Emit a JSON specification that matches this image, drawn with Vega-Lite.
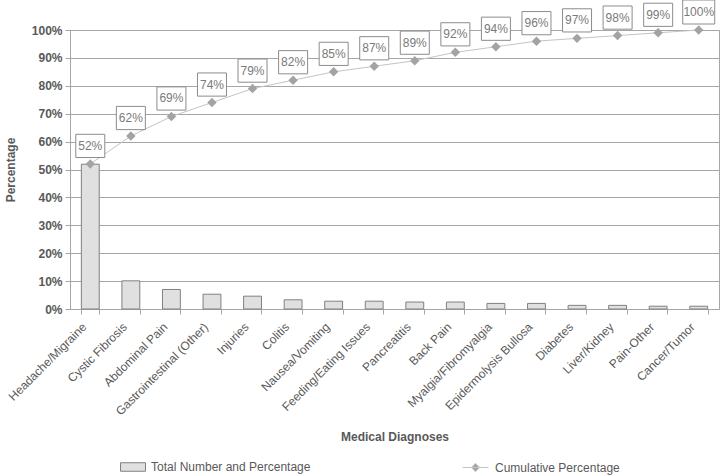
{
  "$schema": "https://vega.github.io/schema/vega-lite/v6.json",
  "width": 649,
  "height": 279,
  "autosize": "none",
  "padding": {"left": 70, "top": 30, "right": 1, "bottom": 166},
  "config": {
    "font": "Liberation Sans",
    "view": {"stroke": "#a6a6a6", "strokeWidth": 1},
    "axis": {
      "domainColor": "#a6a6a6",
      "tickColor": "#a6a6a6",
      "gridColor": "#a6a6a6",
      "gridOpacity": 1,
      "labelColor": "#595959",
      "titleColor": "#595959",
      "labelFont": "Liberation Sans",
      "titleFont": "Liberation Sans",
      "labelFontSize": 12,
      "titleFontSize": 12,
      "titleFontWeight": "bold",
      "tickSize": 5
    },
    "legend": {
      "labelFont": "Liberation Sans",
      "labelFontSize": 12,
      "labelColor": "#595959",
      "padding": 0
    }
  },
  "data": {
    "values": [
      {"diagnosis": "Headache/Migraine", "pct": 0.519, "cum": 0.52},
      {"diagnosis": "Cystic Fibrosis", "pct": 0.101, "cum": 0.62},
      {"diagnosis": "Abdominal Pain", "pct": 0.070, "cum": 0.69},
      {"diagnosis": "Gastrointestinal (Other)", "pct": 0.053, "cum": 0.74},
      {"diagnosis": "Injuries", "pct": 0.046, "cum": 0.79},
      {"diagnosis": "Colitis", "pct": 0.033, "cum": 0.82},
      {"diagnosis": "Nausea/Vomiting", "pct": 0.028, "cum": 0.85},
      {"diagnosis": "Feeding/Eating Issues", "pct": 0.028, "cum": 0.87},
      {"diagnosis": "Pancreatitis", "pct": 0.025, "cum": 0.89},
      {"diagnosis": "Back Pain", "pct": 0.025, "cum": 0.92},
      {"diagnosis": "Myalgia/Fibromyalgia", "pct": 0.020, "cum": 0.94},
      {"diagnosis": "Epidermolysis Bullosa", "pct": 0.020, "cum": 0.96},
      {"diagnosis": "Diabetes", "pct": 0.013, "cum": 0.97},
      {"diagnosis": "Liver/Kidney", "pct": 0.013, "cum": 0.98},
      {"diagnosis": "Pain-Other", "pct": 0.010, "cum": 0.99},
      {"diagnosis": "Cancer/Tumor", "pct": 0.010, "cum": 1.00}
    ]
  },
  "encoding": {
    "x": {
      "field": "diagnosis",
      "type": "nominal",
      "sort": null,
      "scale": {"type": "band", "paddingInner": 0.56, "paddingOuter": 0.28},
      "axis": {
        "title": "Medical Diagnoses",
        "labelAngle": -45,
        "labelPadding": 7,
        "labelOffset": -10,
        "tickBand": "extent",
        "grid": false,
        "titleY": 122,
        "titleBaseline": "top"
      }
    }
  },
  "layer": [
    {
      "mark": {"type": "bar", "stroke": "#808080", "strokeWidth": 1},
      "encoding": {
        "y": {
          "field": "pct",
          "type": "quantitative",
          "scale": {"domain": [0, 1], "nice": false},
          "axis": {
            "title": "Percentage",
            "values": [0, 0.1, 0.2, 0.3, 0.4, 0.5, 0.6, 0.7, 0.8, 0.9, 1],
            "format": ".0%",
            "grid": true,
            "labelOverlap": false,
            "labelFontWeight": "bold",
            "labelPadding": 3,
            "titlePadding": 14
          }
        },
        "fill": {
          "datum": "Total Number and Percentage",
          "scale": {"range": ["#e0e0e0"]},
          "legend": {
            "orient": "none",
            "title": null,
            "legendX": 50,
            "legendY": 424,
            "symbolType": "M-1,-0.34H1V0.34H-1Z",
            "symbolSize": 625,
            "symbolStrokeColor": "#808080",
            "symbolStrokeWidth": 1,
            "labelOffset": 5
          }
        }
      }
    },
    {
      "mark": {"type": "line", "strokeWidth": 1},
      "encoding": {
        "y": {
          "field": "cum",
          "type": "quantitative",
          "axis": {
            "title": "Percentage",
            "values": [0, 0.1, 0.2, 0.3, 0.4, 0.5, 0.6, 0.7, 0.8, 0.9, 1],
            "format": ".0%",
            "grid": true,
            "labelOverlap": false,
            "labelFontWeight": "bold",
            "labelPadding": 3,
            "titlePadding": 14
          }
        },
        "stroke": {
          "datum": "Cumulative Percentage",
          "scale": {"range": ["#c4c4c4"]},
          "legend": {
            "orient": "none",
            "title": null,
            "legendX": 392,
            "legendY": 424,
            "symbolType": "M-1,0H1M0,-0.32L0.32,0L0,0.32L-0.32,0Z",
            "symbolSize": 676,
            "symbolFillColor": "#a3a3a3",
            "symbolStrokeWidth": 1,
            "labelOffset": 6
          }
        }
      }
    },
    {
      "mark": {"type": "point", "shape": "diamond", "filled": true, "size": 90, "fill": "#a3a3a3", "opacity": 1},
      "encoding": {
        "y": {
          "field": "cum",
          "type": "quantitative",
          "axis": {
            "title": "Percentage",
            "values": [0, 0.1, 0.2, 0.3, 0.4, 0.5, 0.6, 0.7, 0.8, 0.9, 1],
            "format": ".0%",
            "grid": true,
            "labelOverlap": false,
            "labelFontWeight": "bold",
            "labelPadding": 3,
            "titlePadding": 14
          }
        }
      }
    },
    {
      "mark": {"type": "point", "filled": true, "fill": "white", "stroke": "#8c8c8c", "strokeWidth": 1, "opacity": 1, "fillOpacity": 1, "yOffset": -18},
      "encoding": {
        "y": {
          "field": "cum",
          "type": "quantitative",
          "axis": {
            "title": "Percentage",
            "values": [0, 0.1, 0.2, 0.3, 0.4, 0.5, 0.6, 0.7, 0.8, 0.9, 1],
            "format": ".0%",
            "grid": true,
            "labelOverlap": false,
            "labelFontWeight": "bold",
            "labelPadding": 3,
            "titlePadding": 14
          }
        },
        "shape": {
          "condition": {"test": "datum.cum >= 1", "value": "M-1,-0.75H1V0.75H-1Z"},
          "value": "M-1,-0.8H1V0.8H-1Z"
        },
        "size": {
          "condition": {"test": "datum.cum >= 1", "value": 1024},
          "value": 841
        }
      }
    },
    {
      "mark": {"type": "text", "fontSize": 12, "fill": "#7a7a7a", "baseline": "middle", "align": "center", "yOffset": -18},
      "encoding": {
        "y": {
          "field": "cum",
          "type": "quantitative",
          "axis": {
            "title": "Percentage",
            "values": [0, 0.1, 0.2, 0.3, 0.4, 0.5, 0.6, 0.7, 0.8, 0.9, 1],
            "format": ".0%",
            "grid": true,
            "labelOverlap": false,
            "labelFontWeight": "bold",
            "labelPadding": 3,
            "titlePadding": 14
          }
        },
        "text": {"field": "cum", "type": "quantitative", "format": ".0%"}
      }
    }
  ]
}
